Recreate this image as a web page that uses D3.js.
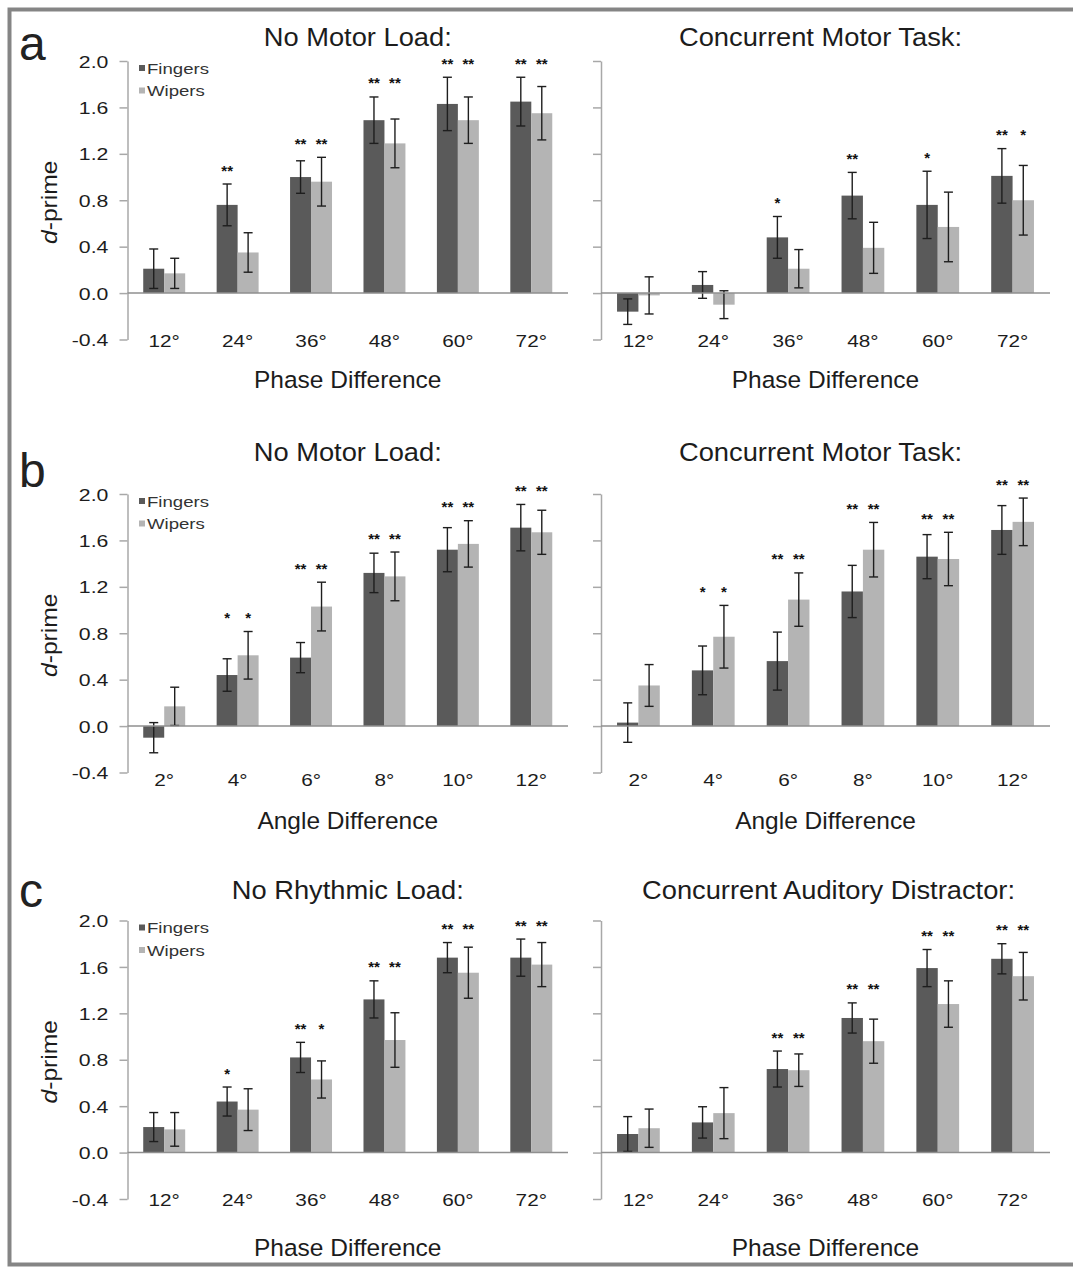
<!DOCTYPE html>
<html><head><meta charset="utf-8">
<script src="https://cdn.jsdelivr.net/npm/d3@7"></script>
<style>
body{margin:0;background:#fff}
svg{display:block}
text{font-family:"Liberation Sans",Arial,Helvetica,sans-serif}
</style>
</head><body>
<svg id="chart" width="1073" height="1269"></svg>
<script>
// ---------- DATA ----------
const seriesNames = ["Fingers", "Wipers"];
const phaseCategories = ["12°", "24°", "36°", "48°", "60°", "72°"];
const angleCategories = ["2°", "4°", "6°", "8°", "10°", "12°"];
const yTickValues = [-0.4, 0.0, 0.4, 0.8, 1.2, 1.6, 2.0];
const yTickLabels = ["-0.4", "0.0", "0.4", "0.8", "1.2", "1.6", "2.0"];
const panelLetters = ["a", "b", "c"];
const leftTitles = ["No Motor Load:", "No Motor Load:", "No Rhythmic Load:"];
const rightTitles = ["Concurrent Motor Task:", "Concurrent Motor Task:", "Concurrent Auditory Distractor:"];
const xAxisTitles = ["Phase Difference", "Angle Difference", "Phase Difference"];

// Panel a, left (No Motor Load)
const aLeftFingers = [0.21, 0.76, 1.00, 1.49, 1.63, 1.65];
const aLeftFingersErr = [0.17, 0.18, 0.14, 0.20, 0.23, 0.21];
const aLeftWipers = [0.17, 0.35, 0.96, 1.29, 1.49, 1.55];
const aLeftWipersErr = [0.13, 0.17, 0.21, 0.21, 0.20, 0.23];
const aLeftFingersSig = ["", "**", "**", "**", "**", "**"];
const aLeftWipersSig = ["", "", "**", "**", "**", "**"];

// Panel a, right (Concurrent Motor Task)
const aRightFingers = [-0.16, 0.07, 0.48, 0.84, 0.76, 1.01];
const aRightFingersErr = [0.11, 0.115, 0.18, 0.20, 0.29, 0.235];
const aRightWipers = [-0.02, -0.10, 0.21, 0.39, 0.57, 0.80];
const aRightWipersErr = [0.16, 0.12, 0.165, 0.22, 0.30, 0.30];
const aRightFingersSig = ["", "", "*", "**", "*", "**"];
const aRightWipersSig = ["", "", "", "", "", "*"];

// Panel b, left (No Motor Load)
const bLeftFingers = [-0.10, 0.44, 0.59, 1.32, 1.52, 1.71];
const bLeftFingersErr = [0.13, 0.14, 0.13, 0.17, 0.19, 0.20];
const bLeftWipers = [0.17, 0.61, 1.03, 1.29, 1.57, 1.67];
const bLeftWipersErr = [0.165, 0.205, 0.21, 0.21, 0.20, 0.19];
const bLeftFingersSig = ["", "*", "**", "**", "**", "**"];
const bLeftWipersSig = ["", "*", "**", "**", "**", "**"];

// Panel b, right (Concurrent Motor Task)
const bRightFingers = [0.03, 0.48, 0.56, 1.16, 1.46, 1.69];
const bRightFingersErr = [0.17, 0.21, 0.25, 0.225, 0.19, 0.21];
const bRightWipers = [0.35, 0.77, 1.09, 1.52, 1.44, 1.76];
const bRightWipersErr = [0.18, 0.27, 0.23, 0.235, 0.23, 0.205];
const bRightFingersSig = ["", "*", "**", "**", "**", "**"];
const bRightWipersSig = ["", "*", "**", "**", "**", "**"];

// Panel c, left (No Rhythmic Load)
const cLeftFingers = [0.22, 0.44, 0.82, 1.32, 1.68, 1.68];
const cLeftFingersErr = [0.125, 0.125, 0.13, 0.16, 0.13, 0.16];
const cLeftWipers = [0.20, 0.37, 0.63, 0.97, 1.55, 1.62];
const cLeftWipersErr = [0.145, 0.18, 0.16, 0.235, 0.22, 0.19];
const cLeftFingersSig = ["", "*", "**", "**", "**", "**"];
const cLeftWipersSig = ["", "", "*", "**", "**", "**"];

// Panel c, right (Concurrent Auditory Distractor)
const cRightFingers = [0.16, 0.26, 0.72, 1.16, 1.59, 1.67];
const cRightFingersErr = [0.15, 0.135, 0.155, 0.13, 0.16, 0.13];
const cRightWipers = [0.21, 0.34, 0.71, 0.96, 1.28, 1.52];
const cRightWipersErr = [0.165, 0.22, 0.14, 0.19, 0.20, 0.205];
const cRightFingersSig = ["", "", "**", "**", "**", "**"];
const cRightWipersSig = ["", "", "**", "**", "**", "**"];

// ---------- BUILD ----------
const panels = [
  {row:0, col:0, cats:phaseCategories, title:leftTitles[0], F:aLeftFingers, eF:aLeftFingersErr, W:aLeftWipers, eW:aLeftWipersErr, sF:aLeftFingersSig, sW:aLeftWipersSig},
  {row:0, col:1, cats:phaseCategories, title:rightTitles[0], F:aRightFingers, eF:aRightFingersErr, W:aRightWipers, eW:aRightWipersErr, sF:aRightFingersSig, sW:aRightWipersSig},
  {row:1, col:0, cats:angleCategories, title:leftTitles[1], F:bLeftFingers, eF:bLeftFingersErr, W:bLeftWipers, eW:bLeftWipersErr, sF:bLeftFingersSig, sW:bLeftWipersSig},
  {row:1, col:1, cats:angleCategories, title:rightTitles[1], F:bRightFingers, eF:bRightFingersErr, W:bRightWipers, eW:bRightWipersErr, sF:bRightFingersSig, sW:bRightWipersSig},
  {row:2, col:0, cats:phaseCategories, title:leftTitles[2], F:cLeftFingers, eF:cLeftFingersErr, W:cLeftWipers, eW:cLeftWipersErr, sF:cLeftFingersSig, sW:cLeftWipersSig},
  {row:2, col:1, cats:phaseCategories, title:rightTitles[2], F:cRightFingers, eF:cRightFingersErr, W:cRightWipers, eW:cRightWipersErr, sF:cRightFingersSig, sW:cRightWipersSig}
];

// ---------- LAYOUT ----------
const rowTop = [61, 494, 920.5];
const rowH = 278.5;
const colX = [[127.5, 568], [601, 1050]];
const titleY = [46, 461, 899];
const titleDx = [[10, -5], [0, -5], [0, 3]];
const letterY = [60, 487, 907];
const xLabY = [347, 786, 1206];
const xTitleY = [388, 829, 1256];
const colors = {Fingers: "#5a5a5a", Wipers: "#b4b4b4"};
const textCol = "#1c1c1c";

const svg = d3.select("#chart");
svg.append("rect").attr("width", 1073).attr("height", 1269).attr("fill", "#fff");

// outer frame
svg.append("rect").attr("x", 9.5).attr("y", 9.5).attr("width", 1070).attr("height", 1255)
  .attr("fill", "none").attr("stroke", "#858585").attr("stroke-width", 4);

function stext(g, x, y, str, size, sx, anchor, extra) {
  const t = g.append("text")
    .attr("transform", `translate(${x},${y}) scale(${sx},1)`)
    .attr("text-anchor", anchor || "middle")
    .attr("font-size", size)
    .attr("fill", textCol)
    .text(str);
  if (extra) extra(t);
  return t;
}

panels.forEach(p => {
  const [x0, x1] = colX[p.col];
  const top = rowTop[p.row], bot = top + rowH;
  const g = svg.append("g");

  const y = d3.scaleLinear().domain([-0.4, 2.0]).range([bot, top]);
  const x = d3.scaleBand().domain(p.cats).range([x0, x1]).paddingInner(0).paddingOuter(0);
  const xs = d3.scaleBand().domain(seriesNames).range([0, x.bandwidth()]).paddingInner(0).paddingOuter(0.75);

  // y axis
  const axis = d3.axisLeft(y).tickValues(yTickValues).tickSize(8).tickSizeOuter(0)
    .tickFormat((d, i) => p.col === 0 ? yTickLabels[i] : "");
  const ag = g.append("g").attr("transform", `translate(${x0},0)`).call(axis);
  ag.select(".domain").attr("stroke", "#a8a8a8").attr("stroke-width", 1.5);
  ag.selectAll(".tick line").attr("stroke", "#a8a8a8").attr("stroke-width", 1.5);
  ag.selectAll(".tick text")
    .attr("font-family", '"Liberation Sans", Arial, sans-serif')
    .attr("font-size", 17).attr("fill", textCol)
    .attr("x", -15.3).attr("dy", "0.36em")
    .attr("transform", "scale(1.25,1)");

  // bars
  const rows = p.cats.map((c, i) => ({
    cat: c,
    vals: [
      {s: "Fingers", v: p.F[i], e: p.eF[i], sig: p.sF[i]},
      {s: "Wipers", v: p.W[i], e: p.eW[i], sig: p.sW[i]}
    ]
  }));

  const grp = g.selectAll(".grp").data(rows).join("g")
    .attr("transform", d => `translate(${x(d.cat)},0)`);

  grp.selectAll("rect.bar").data(d => d.vals).join("rect")
    .attr("class", "bar")
    .attr("x", d => xs(d.s))
    .attr("width", xs.bandwidth())
    .attr("y", d => Math.min(y(d.v), y(0)))
    .attr("height", d => Math.abs(y(d.v) - y(0)))
    .attr("fill", d => colors[d.s]);

  // zero line
  g.append("line").attr("x1", x0).attr("x2", x1).attr("y1", y(0)).attr("y2", y(0))
    .attr("stroke", "#8f8f8f").attr("stroke-width", 1.5);

  // error bars
  const eb = grp.selectAll("g.eb").data(d => d.vals).join("g").attr("class", "eb")
    .attr("transform", d => `translate(${xs(d.s) + xs.bandwidth() / 2},0)`);
  eb.append("line").attr("x1", 0).attr("x2", 0)
    .attr("y1", d => y(d.v + d.e)).attr("y2", d => y(d.v - d.e));
  eb.append("line").attr("x1", -4.5).attr("x2", 4.5)
    .attr("y1", d => y(d.v + d.e)).attr("y2", d => y(d.v + d.e));
  eb.append("line").attr("x1", -4.5).attr("x2", 4.5)
    .attr("y1", d => y(d.v - d.e)).attr("y2", d => y(d.v - d.e));
  eb.selectAll("line").attr("stroke", "#1e1e1e").attr("stroke-width", 1.4);

  // significance stars
  grp.each(function(d) {
    const maxTop = d3.max(d.vals, v => v.v + v.e);
    const cy = y(maxTop) - 17;
    d3.select(this).selectAll("text.sig").data(d.vals.filter(v => v.sig)).join("text")
      .attr("class", "sig")
      .attr("x", v => xs(v.s) + xs.bandwidth() / 2)
      .attr("y", cy + 8.5)
      .attr("text-anchor", "middle")
      .attr("font-size", 15).attr("font-weight", "bold")
      .attr("fill", "#111")
      .text(v => v.sig);
  });

  // x category labels
  p.cats.forEach(c => {
    stext(g, x(c) + x.bandwidth() / 2, xLabY[p.row], c, 17, 1.22, "middle");
  });

  // x axis title
  stext(g, (x0 + x1) / 2, xTitleY[p.row], xAxisTitles[p.row], 24.5, 1.0, "middle");

  // panel title
  stext(g, (x0 + x1) / 2 + titleDx[p.row][p.col], titleY[p.row], p.title, 26, 1.05, "middle");

  if (p.col === 0) {
    // y axis title
    const yl = g.append("text")
      .attr("transform", `translate(57,${(top + bot) / 2 + 2}) rotate(-90) scale(1.12,1)`)
      .attr("text-anchor", "middle").attr("font-size", 22).attr("fill", textCol);
    yl.append("tspan").attr("font-style", "italic").text("d");
    yl.append("tspan").text("-prime");

    // legend
    seriesNames.forEach((s, i) => {
      const cy = top + 7 + i * 22.5;
      g.append("rect").attr("x", 139).attr("y", cy - 3).attr("width", 6).attr("height", 6)
        .attr("fill", colors[s]);
      stext(g, 147, cy + 5.5, s, 15.5, 1.2, "start", t => t.attr("fill", "#333"));
    });

    // panel letter
    stext(g, 19, letterY[p.row], panelLetters[p.row], 48, 1.0, "start", t => t.attr("fill", "#222"));
  }
});
</script>
</body></html>
